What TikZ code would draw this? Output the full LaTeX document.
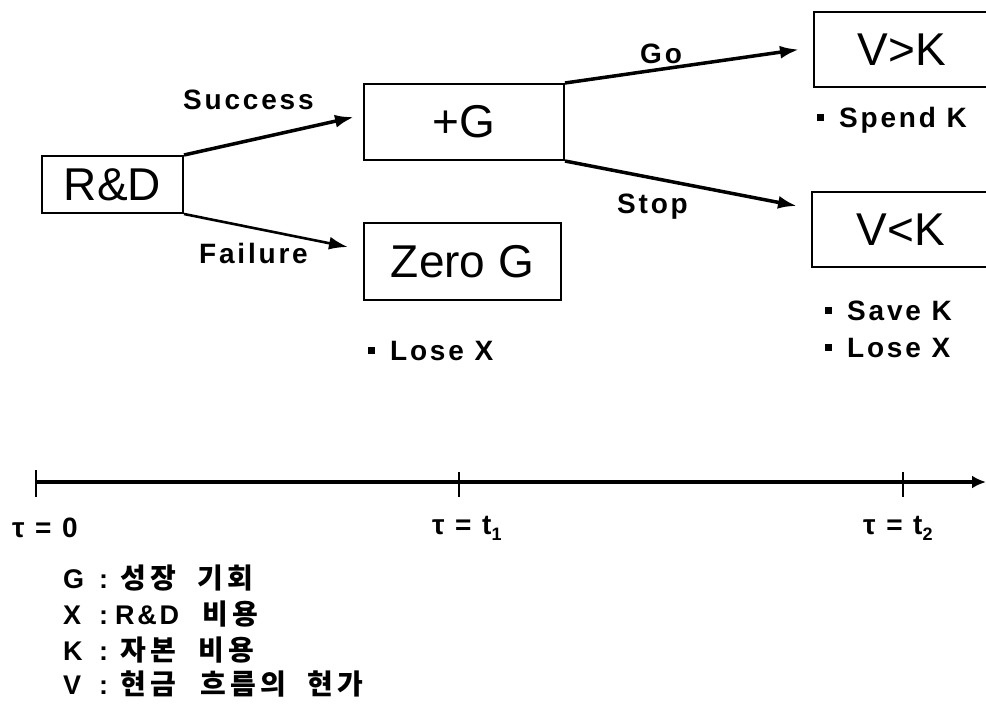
\documentclass[tikz,border=0pt]{standalone}
\usepackage{fontspec}
\setmainfont{Liberation Sans}
\newfontfamily\lab[LetterSpace=10]{Liberation Sans}
\newfontfamily\kr{Noto Sans CJK KR}
\usetikzlibrary{arrows.meta}
\newcommand\mybullet{\rule[6.5pt]{7pt}{7pt}\hspace{15pt}}
\newcommand\kc[1]{\makebox[30pt][l]{\kr\bfseries\fontsize{28}{30}\selectfont #1}}
\newcommand\ws{\hspace{20pt}}
\newcommand\legkey[1]{\makebox[57pt][l]{\makebox[36pt][l]{#1}:}}
\begin{document}
\begin{tikzpicture}[x=1pt,y=-1pt,
  box/.style={draw, line width=2pt, inner sep=0pt, font=\fontsize{46}{50}\selectfont},
  lbl/.style={inner sep=0pt, anchor=base west, font=\lab\bfseries\fontsize{28}{30}\selectfont},
  leg/.style={inner sep=0pt, anchor=base west, font=\lab\bfseries\fontsize{27}{30}\selectfont},
  arr/.style={line width=3.5pt, -{Latex[length=19pt,width=13pt]}},
  tick/.style={line width=1.8pt}]
\useasboundingbox (0,0) rectangle (986,707);
\clip (0,0) rectangle (986,707);
% boxes
\node[box, minimum width=141pt, minimum height=57pt] (rd) at (112.5,184.5) {R\&D};
\node[box, minimum width=200pt, minimum height=76pt] (pg) at (464,122) {+G};
\node[box, minimum width=197pt, minimum height=77pt] (zg) at (462.5,261.5) {Zero G};
\node[box, minimum width=176pt, minimum height=75pt] (vg) at (902,49.5) {V>K};
\node[box, minimum width=178pt, minimum height=75pt] (vl) at (901,229.5) {V<K};
% arrows
\draw[arr] (rd.north east) -- ([shift={(-9pt,5pt)}]pg.west);
\draw[arr, line width=2.6pt] (rd.south east) -- ([shift={(-15pt,14.5pt)}]zg.west);
\draw[arr] (pg.north east) -- ([shift={(-14pt,0pt)}]vg.west);
\draw[arr] (pg.south east) -- ([shift={(-14pt,23.5pt)}]vl.west);
% arrow labels
\node[lbl] (ls) at (183,109) {Success};
\node[lbl] (lf) at (199,263) {Failure};
\node[lbl] (lg) at (640,63) {Go};
\node[lbl] (lt) at (617,213) {Stop};
% bullet texts
\node[lbl] (b1) at (817,127) {\mybullet Spend K};
\node[lbl] (b2) at (368,360) {\mybullet Lose X};
\node[lbl] (b3) at (825,320) {\mybullet Save K};
\node[lbl] (b4) at (825,357) {\mybullet Lose X};
% timeline
\coordinate (t0) at (36,482);
\coordinate (t1) at (459,482);
\coordinate (t2) at (903,482);
\coordinate (tend) at (986,482);
\draw[line width=3.5pt, -{Latex[length=14pt,width=13pt]}] (t0) -- (tend);
\draw[tick] ([yshift=12pt]t0) -- ([yshift=-15pt]t0);
\draw[tick] ([yshift=10pt]t1) -- ([yshift=-15pt]t1);
\draw[tick] ([yshift=10pt]t2) -- ([yshift=-15pt]t2);
\node[lbl] (l0) at (12,537) {τ = 0};
\node[lbl] (l1) at (432,534) {τ = t\raisebox{-6pt}{\fontsize{18}{18}\selectfont 1}};
\node[lbl] (l2) at (863,534) {τ = t\raisebox{-6pt}{\fontsize{18}{18}\selectfont 2}};
% legend
\node[leg] (g1) at (63,588) {\legkey{G}\kc{성}\kc{장}\hspace{17pt}\kc{기}\kc{회}};
\node[leg] (g2) at (63,624) {\makebox[52pt][l]{\makebox[36pt][l]{X}:}\makebox[87pt][l]{R\&D}\kc{비}\kc{용}};
\node[leg] (g3) at (63,660) {\legkey{K}\kc{자}\kc{본}\hspace{18pt}\kc{비}\kc{용}};
\node[leg] (g4) at (63,694) {\legkey{V}\kc{현}\kc{금}\ws\kc{흐}\kc{름}\kc{의}\hspace{17pt}\kc{현}\kc{가}};
\end{tikzpicture}
\end{document}
